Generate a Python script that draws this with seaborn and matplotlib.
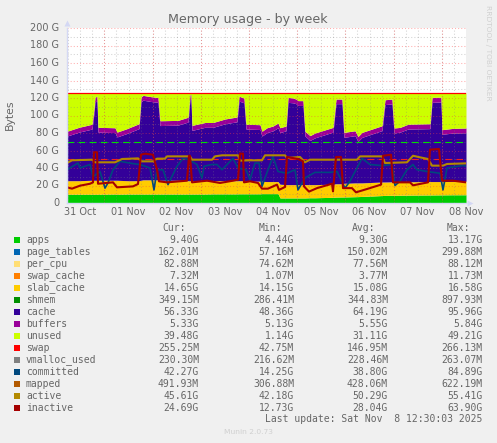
"""Munin memory usage by week, stacked areas plus overlay lines."""
import matplotlib
matplotlib.use("Agg")
import matplotlib.pyplot as plt
import numpy as np
import seaborn as sns

W, H = 497, 443

# ── Stack data: one sample = 30 min, levels in GB ─────────────────────────────
stack_samples = [0, 12, 25, 27, 28, 30, 31, 48, 50, 60, 72, 74, 76, 84, 91, 93, 111, 121, 123, 124,
                 125, 138, 146, 158, 163, 170, 172, 177, 179, 193, 195, 200, 206, 211, 213, 219,
                 221, 226, 229, 231, 236, 238, 243, 248, 266, 269, 275, 277, 288, 291, 295, 315,
                 318, 325, 327, 333, 341, 363, 365, 374, 375, 386, 399]
apps_top = [10, 10, 10, 10, 10, 10, 10, 10.2, 10, 10.2,
            10.2, 10.2, 10.2, 10.2, 10.2, 10.2, 10.2, 10.2, 10.2, 10.2,
            10.2, 10.2, 10.4, 10.4, 10.4, 10.4, 10.5, 10.5, 10.5, 10.5,
            10.7, 10.7, 10.7, 10.7, 5.8, 5.8, 5.8, 5.8, 5.8, 5.8,
            5.8, 5.8, 6, 6, 6.5, 6.8, 6.9, 6.9, 7.2, 7.3,
            7.5, 8.5, 8.7, 8.8, 8.8, 8.9, 9, 9.2, 9.2, 9.3,
            9.3, 9.4, 9.4]
slab_top = [25.5, 25.5, 26, 26, 26, 26, 26, 26, 26, 25.5,
            25.5, 26, 26.5, 26.5, 26.5, 26, 26, 25.5, 25.5, 25.5,
            25.5, 25.5, 25.5, 25.5, 25.5, 25.5, 25.5, 25.5, 25, 25,
            24.8, 24.5, 24.5, 24.5, 21.5, 21, 21, 21, 21, 21,
            21, 21, 21, 21, 21.5, 22, 22, 22.5, 23, 23,
            23, 24, 24, 24.2, 24.2, 24.3, 24.3, 24.5, 24.5, 24.5,
            24.5, 24.7, 24.8]
cache_top = [76.5, 81, 84.5, 102.5, 115.5, 116.5, 81, 80.5, 75.5, 79.5,
             85, 115.5, 117.5, 116, 115, 88.5, 89, 92.5, 118.5, 118.5,
             83, 86.5, 86.5, 90.5, 91.5, 92.8, 116.5, 114.5, 84.5, 84,
             76.5, 80.5, 82.5, 86, 80.5, 82.5, 115, 114.5, 113.5, 111.5,
             111.5, 76.5, 71.5, 74.5, 81, 113.5, 113.5, 75, 77, 70.5,
             75, 82.8, 112.5, 113.3, 80, 81, 84.5, 85, 115, 115.5,
             78.5, 80, 80.3]
buffers_top = [82, 86.5, 90, 108, 121, 122, 86.5, 86, 81, 85,
               90.6, 121, 123, 121.5, 120.5, 94, 94.4, 98, 124, 124,
               88.7, 92, 92, 96, 97, 98.3, 122, 120, 90, 89.5,
               82, 86, 88, 91.4, 86, 88, 120.7, 120, 118.8, 117,
               117, 82, 77, 80, 86.4, 118.8, 118.8, 80.7, 82.6, 76,
               80.7, 88.3, 118, 118.8, 85.7, 86.4, 90, 90.6, 120.7, 121,
               83.8, 85.3, 85.7]
unused_top = 126.0
warn_level = 70
crit_level = 50

# ── Overlay lines ─────────────────────────────────────────────────────────────
committed_x = [0, 11, 13, 23, 26, 33, 38, 41, 46, 53, 66, 73, 83, 87, 90, 96, 101, 110, 116, 122,
               130, 135, 137, 145, 150, 155, 166, 171, 179, 183, 188, 192, 195, 201, 206, 211,
               220, 228, 231, 238, 248, 263, 270, 278, 283, 290, 295, 303, 315, 325, 328, 333,
               340, 346, 350, 360, 373, 376, 380, 396, 399]
committed_y = [38, 45.7, 40, 44, 30, 36, 17, 23, 38, 47.6, 45, 44, 40, 15, 38, 38, 21, 42, 51, 49.5,
               44, 28.6, 42, 44, 44, 38, 51, 40, 38, 26.7, 45.7, 45.7, 19, 38, 53, 36,
               34, 38, 15, 28.6, 35, 35, 36, 17, 25, 40, 51, 44, 42.7, 44, 20, 25,
               38, 44, 38, 36, 34, 15, 40, 43, 42]
active_x = [0, 5, 25, 28, 48, 55, 71, 75, 86, 90, 98, 100, 123, 125, 145, 148, 155, 171, 173, 183,
            195, 198, 218, 220, 233, 238, 243, 290, 293, 315, 318, 340, 346, 353, 361, 365, 376,
            380, 399]
active_y = [45.7, 48.8, 49.5, 46.5, 46.5, 50.3, 51, 47.6, 47.6, 50.7, 50.7, 53.3, 53.3, 49.5, 49.5,
            53.3, 54.5, 54.5, 48.4, 48.8, 48.8, 54.5, 54.5, 51.4, 52.6, 46.5, 49.5, 49.5, 53.3,
            53.3, 45.7, 46.5, 54, 52.2, 50.3, 42.7, 42.7, 44.6, 45.3]
inactive_x = [0, 5, 13, 23, 26, 27, 30, 31, 46, 50, 66, 71, 74, 78, 86, 90, 92, 100, 120, 122, 123,
              125, 140, 153, 166, 171, 173, 176, 177, 183, 191, 195, 201, 210, 212, 218, 220, 231,
              236, 237, 242, 250, 265, 266, 269, 274, 276, 285, 289, 300, 314, 316, 324, 326, 343,
              346, 361, 363, 372, 375, 386, 399]
inactive_y = [17.9, 16.4, 19.8, 22, 23.6, 58, 58, 22, 23.6, 17.9, 19, 21.7, 55.2, 56.4, 55.2, 38, 24.8,
              23.6, 25.5, 54, 54, 23.6, 25.5, 22.9, 25.5, 26.7, 56.4, 56.4, 23.6, 24.8, 22.9, 16.4,
              16.4, 21, 15, 18.3, 52.6, 50.3, 47.6, 19, 13, 17, 22, 13.3, 52.6, 52.6, 17, 17, 12.2,
              16, 21, 54, 55.2, 23.6, 23.6, 20.2, 23.6, 61, 61.7, 25.5, 25.5, 23.6]

# ── Labels ────────────────────────────────────────────────────────────────────
y_ticks = [0, 20, 40, 60, 80, 100, 120, 140, 160, 180, 200]
y_labels = ["0", "20 G", "40 G", "60 G", "80 G", "100 G", "120 G", "140 G", "160 G", "180 G", "200 G"]
day_labels = ["31 Oct", "01 Nov", "02 Nov", "03 Nov", "04 Nov", "05 Nov", "06 Nov", "07 Nov", "08 Nov"]

legend_names = ["apps", "page_tables", "per_cpu", "swap_cache", "slab_cache", "shmem", "cache", "buffers",
                "unused", "swap", "vmalloc_used", "committed", "mapped", "active", "inactive"]
legend_colors = ["#00CC00", "#0066B3", "#FFDE75", "#FF8000", "#FFCC00", "#008F00", "#330099", "#990099",
                 "#CCFF00", "#FF0000", "#808080", "#00487D", "#B35A00", "#B38A00", "#A50000"]
cur_vals = ["9.40G", "162.01M", "82.88M", "7.32M", "14.65G", "349.15M", "56.33G", "5.33G",
            "39.48G", "255.25M", "230.30M", "42.27G", "491.93M", "45.61G", "24.69G"]
min_vals = ["4.44G", "57.16M", "74.62M", "1.07M", "14.15G", "286.41M", "48.36G", "5.13G",
            "1.14G", "42.75M", "216.62M", "14.25G", "306.88M", "42.18G", "12.73G"]
avg_vals = ["9.30G", "150.02M", "77.56M", "3.77M", "15.08G", "344.83M", "64.19G", "5.55G",
            "31.11G", "146.95M", "228.46M", "38.80G", "428.06M", "50.29G", "28.04G"]
max_vals = ["13.17G", "299.88M", "88.12M", "11.73M", "16.58G", "897.93M", "95.96G", "5.84G",
            "49.21G", "266.13M", "263.07M", "84.89G", "622.19M", "55.41G", "63.90G"]

BG = "#F0F0F0"
TEXT = "#666666"
AXIS_BLUE = "#D4D8F4"
MONO = "DejaVu Sans Mono"

sns.set_theme(style="white", rc={"figure.facecolor": BG, "axes.facecolor": "white"})
plt.rcParams["font.family"] = ["DejaVu Sans"]


def px_text(fig, x, y, s, **kw):
    fig.text(x / W, 1 - y / H, s, va="center", **kw)


fig = plt.figure(figsize=(W / 100, H / 100), dpi=100, facecolor=BG)
ax = fig.add_axes([67 / W, 1 - 203 / H, 399 / W, 175 / H])
ax.set_xlim(0, 399)
ax.set_ylim(0, 200)

# areas
x = np.array(stack_samples)
ax.fill_between(x, 0, apps_top, color="#00CC00", lw=0, zorder=1)
ax.fill_between(x, apps_top, slab_top, color="#FFCC00", lw=0, zorder=1)
ax.fill_between(x, slab_top, cache_top, color="#330099", lw=0, zorder=1)
ax.fill_between(x, cache_top, buffers_top, color="#990099", lw=0, zorder=1)
ax.fill_between(x, buffers_top, unused_top, color="#CCFF00", lw=0, zorder=1)

# grid goes over the areas, like rrdtool draws it
day = 48.2
first_midnight = 37.4
midnights = first_midnight + day * np.arange(8)
six_hours = (first_midnight % (day / 4)) + (day / 4) * np.arange(33)
dot = (0, (1, 2))
for v in six_hours:
    ax.axvline(v, color="#808080", alpha=0.35, lw=0.75, ls=dot, zorder=2)
for v in np.arange(10, 200, 20):
    ax.axhline(v, color="#808080", alpha=0.35, lw=0.75, ls=dot, zorder=2)
for v in midnights:
    ax.axvline(v, color="#FF4040", alpha=0.42, lw=0.75, ls=dot, zorder=2.1)
for v in y_ticks[1:]:
    ax.axhline(v, color="#FF4040", alpha=0.42, lw=0.75, ls=dot, zorder=2.1)

# limits and swap on top of the stack
ax.axhline(warn_level, color="#00E000", lw=0.8, ls=(0, (6, 4)), zorder=3)
ax.axhline(crit_level, color="#F02020", lw=0.8, ls=(0, (6, 4)), zorder=3)
ax.axhline(unused_top, color="#FF0000", lw=0.9, zorder=3)

sns.lineplot(x=committed_x, y=committed_y, ax=ax, color="#00487D", linewidth=1.2, zorder=4, errorbar=None)
sns.lineplot(x=active_x, y=active_y, ax=ax, color="#B38A00", linewidth=1.5, zorder=5, errorbar=None)
sns.lineplot(x=inactive_x, y=inactive_y, ax=ax, color="#A50000", linewidth=1.5, zorder=6, errorbar=None)

# axes
ax.set_xticks([])
ax.set_yticks([])
ax.set_xlabel("")
ax.set_ylabel("")
for side in ("top", "right"):
    ax.spines[side].set_visible(False)
for side in ("left", "bottom"):
    ax.spines[side].set_color(AXIS_BLUE)
    ax.spines[side].set_linewidth(1)
    ax.spines[side].set_zorder(7)
ax.plot(0, 1.03, "^", transform=ax.transAxes, ms=4.5, color=AXIS_BLUE, mec="none", clip_on=False)
ax.plot(1.01, 0, ">", transform=ax.transAxes, ms=4.5, color=AXIS_BLUE, mec="none", clip_on=False)

# texts, placed in image pixels
px_text(fig, 248, 20, "Memory usage - by week", ha="center", fontsize=9.1, color=TEXT)
px_text(fig, 10, 115, "Bytes", ha="center", rotation=90, fontsize=7.8, color=TEXT)
px_text(fig, 488, 53, "RRDTOOL / TOBI OETIKER", ha="center", rotation=270, fontsize=5.4, color="#D0D0D0")
for tick, lab in zip(y_ticks, y_labels):
    px_text(fig, 59, 203 - tick * 175 / 200, lab, ha="right", fontsize=7, color=TEXT)
for i, lab in enumerate(day_labels):
    px_text(fig, 67 + first_midnight - day / 2 + day * i, 212, lab, ha="center", fontsize=7, color=TEXT)

columns = [(199, 186, "Cur:", cur_vals), (294, 281.7, "Min:", min_vals),
           (388, 375.7, "Avg:", avg_vals), (482.7, 470, "Max:", max_vals)]
for right, head_right, head, vals in columns:
    px_text(fig, head_right, 227.7, head, ha="right", fontsize=7, family=MONO, color=TEXT)
    for i, v in enumerate(vals):
        px_text(fig, right, 239.7 + 12 * i, v, ha="right", fontsize=7, family=MONO, color=TEXT)
for i, (name, col) in enumerate(zip(legend_names, legend_colors)):
    y = 239.7 + 12 * i
    fig.patches.append(plt.Rectangle((14 / W, 1 - (y + 3) / H), 6 / W, 6 / H, transform=fig.transFigure,
                                     facecolor=col, edgecolor="none"))
    px_text(fig, 26, y, name, ha="left", fontsize=7, family=MONO, color=TEXT)
px_text(fig, 482.7, 419.3, "Last update: Sat Nov  8 12:30:03 2025", ha="right", fontsize=7, family=MONO, color=TEXT)
px_text(fig, 248, 432, "Munin 2.0.73", ha="center", fontsize=5.4, color="#D0D0D0")

fig.savefig("out.png", dpi=100, facecolor=BG)
